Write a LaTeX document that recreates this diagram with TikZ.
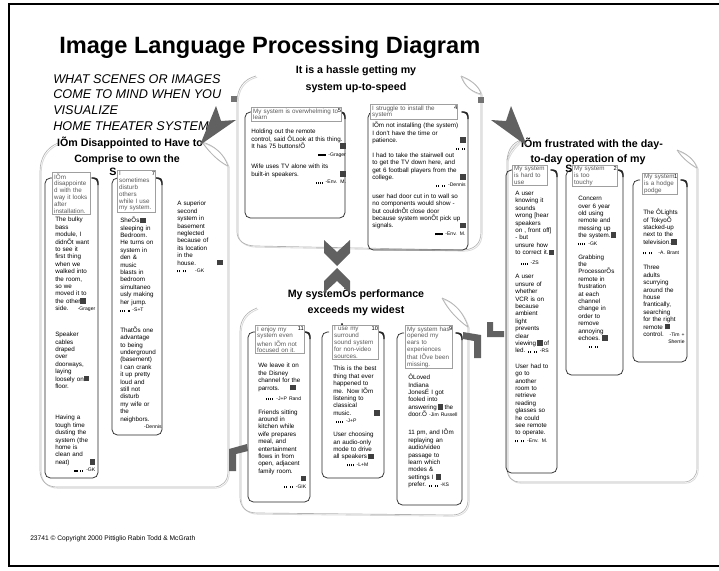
\documentclass[tikz,border=0pt]{standalone}
\usepackage{fontspec}
\setmainfont{Liberation Sans}
\usetikzlibrary{positioning}

\newcommand{\cardfont}{\fontsize{4.7}{5.55}\selectfont}
\newcommand{\tagfont}{\fontsize{4.7}{5.1}\selectfont}
\newcommand{\sq}{\textcolor{black!75}{\rule[-0.3pt]{4.2pt}{4.2pt}}}
\newcommand{\pip}{\rule{0.9pt}{1.5pt}\hspace{0.6pt}}
\newcommand{\fourpip}{\pip\pip\pip\pip}
\newcommand{\twopip}{\pip\pip\hspace{1.4pt}\pip\pip}
\newcommand{\who}[1]{{\fontsize{3.8}{4.5}\selectfont #1}}
\newcommand{\rgt}{\mbox{}\hfill}
% card outline: open at the top, with a heavier curl at the top right
\newcommand{\cardedge}[4]{%
  \draw[cardline] (#1+7,#2) -- (#1,#2) -- (#1,#4) -- (#3,#4) -- (#3,#2) -- (#3-7,#2);
  \draw[cardcurl] (#3-6,#2) -- (#3,#2) -- (#3,#2+7);}

\tikzset{
  panel/.style={draw=gray!60, line width=0.5pt,
    preaction={draw=gray!30, line width=0.6pt, transform canvas={shift={(0.9pt,-0.9pt)}}}},
  cardline/.style={draw=black!85, line width=0.55pt, rounded corners=4pt},
  cardcurl/.style={draw=black!85, line width=1.1pt, rounded corners=3pt},
  cardtext/.style={font=\cardfont, align=left, inner sep=0pt, anchor=north west, text width=#1},
  tag/.style={draw=gray!75, fill=white, line width=0.75pt, font=\tagfont, text=gray!70!black,
    align=left, inner xsep=1.3pt, inner ysep=0.8pt, anchor=north west, text width=#1},
  tagnum/.style={font=\fontsize{4.3}{5}\selectfont, inner sep=0.6pt, anchor=north east},
  paneltitle/.style={font=\bfseries\fontsize{8}{9.6}\selectfont, anchor=base, inner sep=0pt},
  wedge/.style={fill=black!62, draw=none},
}

\begin{document}
\begin{tikzpicture}[x=0.75pt, y=-0.75pt]
  \useasboundingbox (0,0) rectangle (719,571);
  % frame
  \draw[line width=2.2pt] (725,4) -- (9,4) -- (9,566) -- (725,566);

  \node[font=\bfseries\fontsize{17.7}{21}\selectfont, anchor=base west, inner sep=0pt] (title)
    at (59,54) {Image Language Processing Diagram};
  \node[font=\itshape\fontsize{9.5}{11.8}\selectfont, align=left, anchor=north west, inner sep=0pt]
    (question) at (53,74) {WHAT SCENES OR IMAGES\\COME TO MIND WHEN YOU\\VISUALIZE\\HOME THEATER SYSTEMS?};

  % panel outlines
  \draw[panel] (256,76) .. controls (244,79) and (237,88) .. (237,102) -- (237,232)
    .. controls (237,241) and (245,246) .. (256,246) -- (462,250)
    .. controls (474,250) and (481,244) .. (481,232) -- (481,94);
  \draw[panel] (461,76) .. controls (470,79) and (479,86) .. (481,94);
  \draw[panel] (461,76) .. controls (464,86) and (472,92) .. (481,94);

  \draw[panel] (58,143) .. controls (46,148) and (40,158) .. (40,172) -- (40,470)
    .. controls (40,480) and (46,487) .. (57,487) -- (214,487)
    .. controls (222,487) and (228,481) .. (228,472) -- (228,166);
  \draw[panel] (202,142) .. controls (214,145) and (224,154) .. (228,166);
  \draw[panel] (202,142) .. controls (209,152) and (218,161) .. (228,166);

  \draw[panel] (507,160) -- (507,468) .. controls (507,477) and (512,482) .. (520,482)
    -- (684,482) .. controls (692,482) and (697,476) .. (697,468) -- (697,168);
  \draw[panel] (521,140) .. controls (515,146) and (509,152) .. (507,160);
  \draw[panel] (521,140) .. controls (512,143) and (508,150) .. (507,160);
  \draw[panel] (677,150) .. controls (686,153) and (694,159) .. (697,168);
  \draw[panel] (677,150) .. controls (682,158) and (690,164) .. (697,168);

  \draw[panel] (257,308) .. controls (246,312) and (240,320) .. (240,332) -- (240,497)
    .. controls (240,507) and (246,513) .. (257,513) -- (452,515)
    .. controls (462,515) and (468,509) .. (468,500) -- (468,327);
  \draw[panel] (442,298) .. controls (454,302) and (464,313) .. (468,327);
  \draw[panel] (442,298) .. controls (448,310) and (458,320) .. (468,327);

  \fill[black!55] (231,96) rectangle (237,102);
  \fill[black!55] (478,97) rectangle (484,103);

  % panel titles
  \node[paneltitle] (hassleA) at (356,73) {It is a hassle getting my};
  \node[paneltitle] (hassleB) at (356,90) {system up-to-speed};
  \node[paneltitle] (lookA) at (130,146) {IÕm Disappointed to Have to};
  \node[paneltitle] (lookB) at (127,162) {Comprise to own the};
  \node[paneltitle] (lookC) at (113,175) {S};
  \node[paneltitle] (useA) at (592,147) {IÕm frustrated with the day-};
  \node[paneltitle] (useB) at (588,162) {to-day operation of my};
  \node[paneltitle] (useC) at (569,172) {S};
  \node[paneltitle] (joyA) at (356,297) {My systemÕs performance};
  \node[paneltitle] (joyB) at (356,313) {exceeds my widest};
  \node[paneltitle] (joyC) at (356,331) {dreams};

  % cards
  \cardedge{245}{112}{345}{218}
  \cardedge{368}{112}{468}{250}
  \cardedge{45}{178}{98}{478}
  \cardedge{112}{178}{162}{435}
  \cardedge{506}{170}{557}{473}
  \cardedge{566}{170}{623}{375}
  \cardedge{633}{180}{687}{362}
  \cardedge{248}{332}{310}{502}
  \cardedge{322}{332}{384}{478}
  \cardedge{397}{333}{462}{505}

  % card headers
  \node[tag=65pt] (tagT1) at (251,107) {My system is overwhelming to\\learn};
  \node[tagnum] (numT1) at (tagT1.north east) {5};
  \node[tag=63pt] (tagT2) at (370,104) {I struggle to install the\\system};
  \node[tagnum] (numT2) at (tagT2.north east) {4};
  \node[tag=26pt] (tagLA) at (52,172) {IÕm\\disappointe\\d with the\\way it looks\\after\\installation.};
  \node[tag=26pt] (tagLB) at (117,170) {I\\sometimes\\disturb\\others\\while I use\\my system.};
  \node[tagnum] (numLB) at (tagLB.north east) {7};
  \node[tag=24pt] (tagR1) at (512,165) {My system\\is hard to\\use};
  \node[tag=31pt] (tagR2) at (572,165) {My system\\is too\\touchy};
  \node[tagnum] (numR2) at (tagR2.north east) {2};
  \node[tag=24pt] (tagR3) at (642,173) {My system\\is a hodge\\podge};
  \node[tagnum] (numR3) at (tagR3.north east) {1};
  \node[tag=34pt] (tagB1) at (255,325) {I enjoy my\\system even\\when IÕm not\\focused on it.};
  \node[tagnum] (numB1) at (tagB1.north east) {11};
  \node[tag=32pt] (tagB2) at (332,325) {I use my\\surround\\sound system\\for non-video\\sources.};
  \node[tagnum] (numB2) at (tagB2.north east) {10};
  \node[tag=33pt] (tagB3) at (405,325) {My system has\\opened my\\ears to\\experiences\\that IÕve been\\missing.};
  \node[tagnum] (numB3) at (tagB3.north east) {9};

  % quotes
  \node[cardtext=71pt] (textT1) at (251,129) {Holding out the remote\\
    control, said ÔLook at this thing.\\
    It has 75 buttons!Õ\rgt\sq\hspace*{8pt}\\
    \rgt\fourpip\ \who{-Grager}\hspace*{3pt}\\[4pt]
    Wife uses TV alone with its\\
    built-in speakers.\rgt\sq\hspace*{8pt}\\
    \rgt\fourpip\ \who{-Env. M.}\hspace*{3pt}};
  \node[cardtext=70pt] (textT2) at (372,122) {IÕm not installing (the system)\\
    I don't have the time or\\
    patience.\rgt\sq\hspace*{8pt}\\
    \rgt\twopip\hspace*{18pt}\\
    I had to take the stairwell out\\
    to get the TV down here, and\\
    get 6 football players from the\\
    college.\rgt\sq\hspace*{8pt}\\
    \rgt\twopip\ \who{-Dennis}\hspace*{4pt}\\[3pt]
    user had door cut in to wall so\\
    no components would show -\\
    but couldnÕt close door\\
    because system wonÕt pick up\\
    signals.\rgt\sq\hspace*{12pt}\\
    \rgt\fourpip\ \who{-Env. M.}\hspace*{4pt}};
  \node[cardtext=30pt] (textLA) at (55,217) {The bulky\\bass\\module, I\\didnÕt want\\to see it\\
    first thing\\when we\\walked into\\the room,\\so we\\moved it to\\the other\sq\\
    side.\rgt\who{-Grager}\\[14pt]
    Speaker\\cables\\draped\\over\\doorways,\\laying\\loosely on\sq\\floor.\\[18pt]
    Having a\\tough time\\dusting the\\system (the\\home is\\clean and\\neat)\rgt\sq\hspace*{6pt}\\
    \rgt\twopip\ \who{-GK}};
  \node[cardtext=31pt] (textLB) at (120,217) {SheÕs\,\sq\\sleeping in\\Bedroom.\\He turns on\\
    system in\\den \&\\music\\blasts in\\bedroom\\simultaneo\\usly making\\her jump.\\
    \pip\pip\pip\ \pip\ \who{-S+T}\\[10pt]
    ThatÕs one\\advantage\\to being\\underground\\(basement)\\I can crank\\it up pretty\\
    loud and\\still not\\disturb\\my wife or\\the\\neighbors.\\
    \rgt\who{-Dennis}};
  \node[cardtext=34pt] (textLC) at (177,201) {A superior\\second\\system in\\basement\\neglected\\
    because of\\its location\\in the\\house.\rgt\sq\hspace*{8pt}\\
    \twopip\hspace{6pt}\who{-GK}};
  \node[cardtext=31pt] (textR1) at (515,191) {A user\\knowing it\\sounds\\wrong [hear\\speakers\\
    on , front off]\\- but\\unsure how\\to correct it.\sq\\[2pt]
    \hspace*{4pt}\fourpip\ \who{-ZS}\\[5pt]
    A user\\unsure of\\whether\\VCR is on\\because\\ambient\\light\\prevents\\clear\\
    viewing\,\sq\,of\\led.\hspace{2pt}\twopip\ \who{-RS}\\[6pt]
    User had to\\go to\\another\\room to\\retrieve\\reading\\glasses so\\he could\\
    see remote\\to operate.\\
    \twopip\ \who{-Env. M.}};
  \node[cardtext=33pt] (textR2) at (578,196) {Concern\\over 6 year\\old using\\remote and\\
    messing up\\the system.\sq\\
    \fourpip\ \who{-GK}\\[5pt]
    Grabbing\\the\\ProcessorÕs\\remote in\\frustration\\at each\\channel\\change in\\
    order to\\remove\\annoying\\echoes.\ \sq\\
    \hspace*{8pt}\twopip};
  \node[cardtext=31pt] (textR3) at (643,209) {The ÔLights\\of TokyoÕ\\stacked-up\\next to the\\
    television.\sq\\[2pt]
    \twopip\hspace{4pt}\who{-A. Brant}\\[6pt]
    Three\\adults\\scurrying\\around the\\house\\frantically,\\searching\\for the right\\
    remote\ \sq\\control.\rgt\who{-Tim +}\\
    \rgt\who{Sherrie}};
  \node[cardtext=36pt] (textB1) at (258,363) {We leave it on\\the Disney\\channel for the\\
    parrots.\hspace{8pt}\sq\\[2pt]
    \hspace*{6pt}\fourpip\ \who{-J+P Rand}\\[5pt]
    Friends sitting\\around in\\kitchen while\\wife prepares\\meal, and\\entertainment\\
    flows in from\\open, adjacent\\family room.\\
    \rgt\sq\hspace*{12pt}\\
    \rgt\twopip\ \who{-GIK}\hspace*{4pt}};
  \node[cardtext=35pt] (textB2) at (333,366) {This is the best\\thing that ever\\happened to\\
    me. Now IÕm\\listening to\\classical\\music.\rgt\sq\hspace*{4pt}\\
    \hspace*{2pt}\fourpip\ \who{-J+P}\\[5pt]
    User choosing\\an audio-only\\mode to drive\\all speakers\,\sq\\
    \hspace*{10pt}\fourpip\ \who{-L+M}};
  \node[cardtext=38pt] (textB3) at (408,374) {ÔLoved\\Indiana\\JonesÉ I got\\fooled into\\
    answering\,\sq\,the\\door.Õ\ \who{-Jim Russell}\\[8pt]
    11 pm, and IÕm\\replaying an\\audio/video\\passage to\\learn which\\modes \&\\
    settings I\ \sq\\prefer.\hspace{2pt}\twopip\ \who{-KS}};

  % arrowheads between the groups
  \fill[wedge] (200,145) -- (216,106) -- (221,121) -- (236,120) -- cycle;
  \fill[wedge] (527,146) -- (511,106) -- (506,121) -- (491,120) -- cycle;
  \fill[wedge] (324,240) -- (337,252) -- (350,240) -- (350,253) -- (337,266) -- (324,253) -- cycle;
  \fill[wedge] (337,268) -- (350,281) -- (350,293) -- (337,281) -- (324,293) -- (324,281) -- cycle;
  \fill[wedge] (229,449) -- (247,444) -- (248,451) -- (236,454) -- (236,471) -- (229,471) -- cycle;
  \fill[wedge] (463,332) -- (481,335) -- (481,358) -- (474,358) -- (474,341) -- (463,339) -- cycle;
  \fill[wedge] (487,322) -- (493,322) -- (493,331) -- (504,331) -- (504,337) -- (487,337) -- cycle;

  \node[font=\fontsize{5}{6}\selectfont, anchor=base west, inner sep=0pt] (footer) at (30,540)
    {23741 © Copyright 2000 Pittiglio Rabin Todd \& McGrath};
\end{tikzpicture}
\end{document}
